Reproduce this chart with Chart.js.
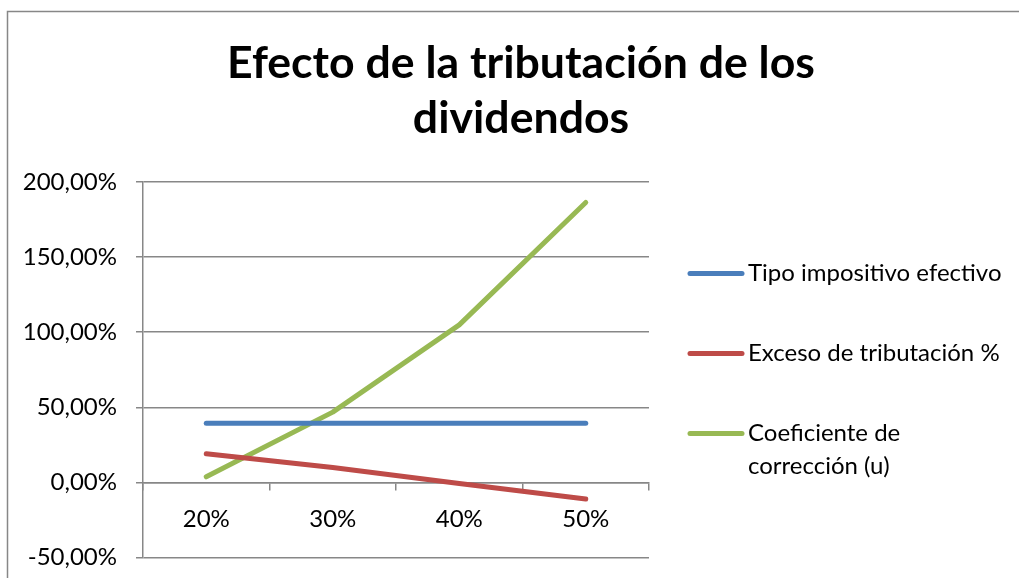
<!DOCTYPE html>
<html lang="es">
<head>
    <meta charset="UTF-8">
    <title>Efecto de la tributación de los dividendos</title>
    <script src="https://cdn.jsdelivr.net/npm/chart.js"></script>
    <style>
        body { margin: 0; background: #fff; }
        .chart-box { position: relative; width: 1019px; height: 578px; }
    </style>
</head>
<body>
    <div class="chart-box">
        <canvas id="chartDividendos"></canvas>
    </div>
    <script>
        // Data
        const categories = ['20%', '30%', '40%', '50%'];
        const tipoEfectivo = [0.394, 0.394, 0.394, 0.394];
        const excesoTributacion = [0.191, 0.099, -0.007, -0.111];
        const coefCorreccion = [0.037, 0.468, 1.049, 1.864];
        const seriesNames = ['Tipo impositivo efectivo', 'Exceso de tributación %', 'Coeficiente de corrección (u)'];
        const titleLines = ['Efecto de la tributación de los', 'dividendos'];
        const yMin = -0.5, yMax = 2, yStep = 0.5;

        const gridColor = '#878787';
        const textFont = 'Lato';

        // Title, outer frame and the legend on the right
        const decorPlugin = {
            id: 'decor',
            beforeDraw(chart) {
                const ctx = chart.ctx;
                ctx.save();
                ctx.fillStyle = '#fff';
                ctx.fillRect(0, 0, chart.width, chart.height);
                ctx.strokeStyle = gridColor;
                ctx.lineWidth = 1.5;
                ctx.strokeRect(7.5, 11.5, chart.width + 50, chart.height + 50);
                ctx.restore();
            },
            afterDraw(chart) {
                const ctx = chart.ctx;
                ctx.save();
                ctx.fillStyle = '#000';
                ctx.textAlign = 'center';
                ctx.textBaseline = 'alphabetic';
                ctx.font = 'bold 44.6px ' + textFont;
                ctx.fillText(titleLines[0], 521, 78);
                ctx.fillText(titleLines[1], 521, 133);

                ctx.font = '24px ' + textFont;
                ctx.textAlign = 'left';
                ctx.textBaseline = 'middle';
                chart.data.datasets.forEach((ds, i) => {
                    const y = 273.5 + i * 80;
                    ctx.strokeStyle = ds.borderColor;
                    ctx.lineWidth = 5;
                    ctx.lineCap = 'round';
                    ctx.beginPath();
                    ctx.moveTo(690, y);
                    ctx.lineTo(742, y);
                    ctx.stroke();
                    // simple word wrap
                    const words = ds.label.split(' ');
                    let line = '', ly = y;
                    words.forEach(w => {
                        const test = line ? line + ' ' + w : w;
                        if (ctx.measureText(test).width > 262 && line) {
                            ctx.fillText(line, 748, ly);
                            line = w;
                            ly += 33;
                        } else {
                            line = test;
                        }
                    });
                    ctx.fillText(line, 748, ly);
                });
                ctx.restore();
            }
        };

        function lineSet(label, data, color) {
            return {
                label, data,
                borderColor: color,
                backgroundColor: color,
                borderWidth: 5,
                borderCapStyle: 'round',
                borderJoinStyle: 'round',
                pointRadius: 0,
                tension: 0
            };
        }

        new Chart(document.getElementById('chartDividendos'), {
            type: 'line',
            data: {
                labels: categories,
                datasets: [
                    lineSet(seriesNames[0], tipoEfectivo, '#4A7EBB'),
                    lineSet(seriesNames[1], excesoTributacion, '#BE4B48'),
                    lineSet(seriesNames[2], coefCorreccion, '#98B954')
                ]
            },
            options: {
                responsive: true,
                maintainAspectRatio: false,
                animation: false,
                layout: { padding: { left: 0, top: 182, right: 370, bottom: 20.5 } },
                plugins: {
                    legend: { display: false },
                    title: { display: false },
                    tooltip: { enabled: false }
                },
                scales: {
                    x: {
                        position: { y: 0 },
                        offset: true,
                        afterFit(scale) { scale.height = 0; },
                        grid: { drawOnChartArea: false, offset: true, tickLength: 7, color: gridColor, lineWidth: 1.5 },
                        border: { color: gridColor, width: 1.5 },
                        ticks: { color: '#000', font: { family: textFont, size: 24 }, padding: 15, maxRotation: 0 }
                    },
                    y: {
                        min: yMin,
                        max: yMax,
                        afterFit(scale) {
                            scale.width = 143;
                            scale.paddingTop = 0;
                            scale.paddingBottom = 0;
                        },
                        grid: { color: gridColor, lineWidth: 1.5, tickLength: 7 },
                        border: { color: gridColor, width: 1.5 },
                        ticks: {
                            stepSize: yStep,
                            color: '#000',
                            padding: 19,
                            font: { family: textFont, size: 24 },
                            callback: v => (v * 100).toFixed(2).replace('.', ',') + '%'
                        }
                    }
                }
            },
            plugins: [decorPlugin]
        });
    </script>
</body>
</html>
